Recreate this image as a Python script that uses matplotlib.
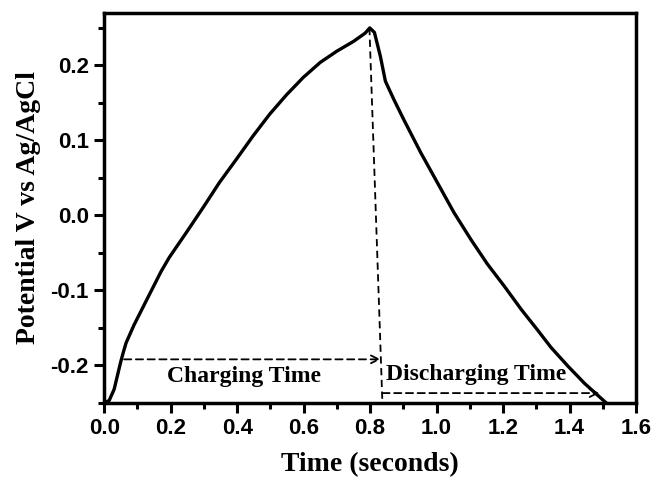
import matplotlib
matplotlib.use("Agg")
import matplotlib.pyplot as plt
from matplotlib.ticker import MultipleLocator

# charge/discharge curve
time_s = [0.0, 0.015, 0.03, 0.05, 0.058, 0.066, 0.09, 0.131, 0.171, 0.196, 0.247,
          0.297, 0.347, 0.398, 0.448, 0.498, 0.549, 0.599, 0.65, 0.70, 0.75,
          0.785, 0.799, 0.813, 0.831, 0.846, 0.871, 0.901, 0.952, 1.002, 1.052,
          1.103, 1.153, 1.203, 1.254, 1.304, 1.344, 1.395, 1.445, 1.51]
potential = [-0.25, -0.247, -0.232, -0.195, -0.182, -0.17, -0.146, -0.11, -0.075,
             -0.056, -0.023, 0.010, 0.044, 0.075, 0.106, 0.135, 0.161, 0.184,
             0.204, 0.219, 0.232, 0.243, 0.250, 0.244, 0.212, 0.179, 0.155, 0.128,
             0.084, 0.044, 0.004, -0.032, -0.065, -0.094, -0.125, -0.153, -0.176,
             -0.201, -0.224, -0.25]

# guide lines
charge_arrow = ((0.06, -0.192), (0.832, -0.192))
peak_drop = ((0.798, 0.25), (0.837, -0.25))
discharge_arrow = ((0.837, -0.237), (1.49, -0.237))

xticks = [0.0, 0.2, 0.4, 0.6, 0.8, 1.0, 1.2, 1.4, 1.6]
yticks = [-0.2, -0.1, 0.0, 0.1, 0.2]

tick_font = "Liberation Sans"
label_font = "Liberation Serif"

fig = plt.figure(figsize=(6.51, 4.79), dpi=100)
ax = fig.add_axes([0.160, 0.159, 0.817, 0.814])

ax.plot(time_s, potential, color="black", lw=2.4, solid_joinstyle="round")

ax.plot(*zip(*peak_drop), color="black", lw=1.3, ls=(0, (4, 2.5)))
for (x0, y0), (x1, y1) in (charge_arrow, discharge_arrow):
    ax.annotate("", xy=(x1, y1), xytext=(x0, y0),
                arrowprops=dict(arrowstyle="->", color="black", lw=1.3,
                                linestyle=(0, (4, 2.5)), shrinkA=0, shrinkB=0,
                                mutation_scale=14))

ax.text(0.42, -0.215, "Charging Time", ha="center", va="center",
        family=label_font, weight="bold", fontsize=17)
ax.text(1.12, -0.212, "Discharging Time", ha="center", va="center",
        family=label_font, weight="bold", fontsize=17)

ax.set_xlim(0.0, 1.6)
ax.set_ylim(-0.25, 0.27)
ax.set_xticks(xticks)
ax.set_yticks(yticks)
ax.xaxis.set_minor_locator(MultipleLocator(0.1))
ax.yaxis.set_minor_locator(MultipleLocator(0.05))
ax.set_xticklabels([f"{v:.1f}" for v in xticks])
ax.set_yticklabels([f"{v:.1f}" for v in yticks])

ax.tick_params(which="both", direction="out", width=2.2, top=False, right=False)
ax.tick_params(which="major", length=7, pad=4)
ax.tick_params(which="minor", length=4)
for lab in ax.get_xticklabels() + ax.get_yticklabels():
    lab.set_family(tick_font)
    lab.set_weight("bold")
    lab.set_fontsize(16)

for sp in ax.spines.values():
    sp.set_linewidth(2.5)

ax.set_xlabel("Time (seconds)", family=label_font, weight="bold", fontsize=20, labelpad=9)
ax.set_ylabel("Potential V vs Ag/AgCl", family=label_font, weight="bold", fontsize=20, labelpad=7)

fig.savefig("out.png", dpi=100)
